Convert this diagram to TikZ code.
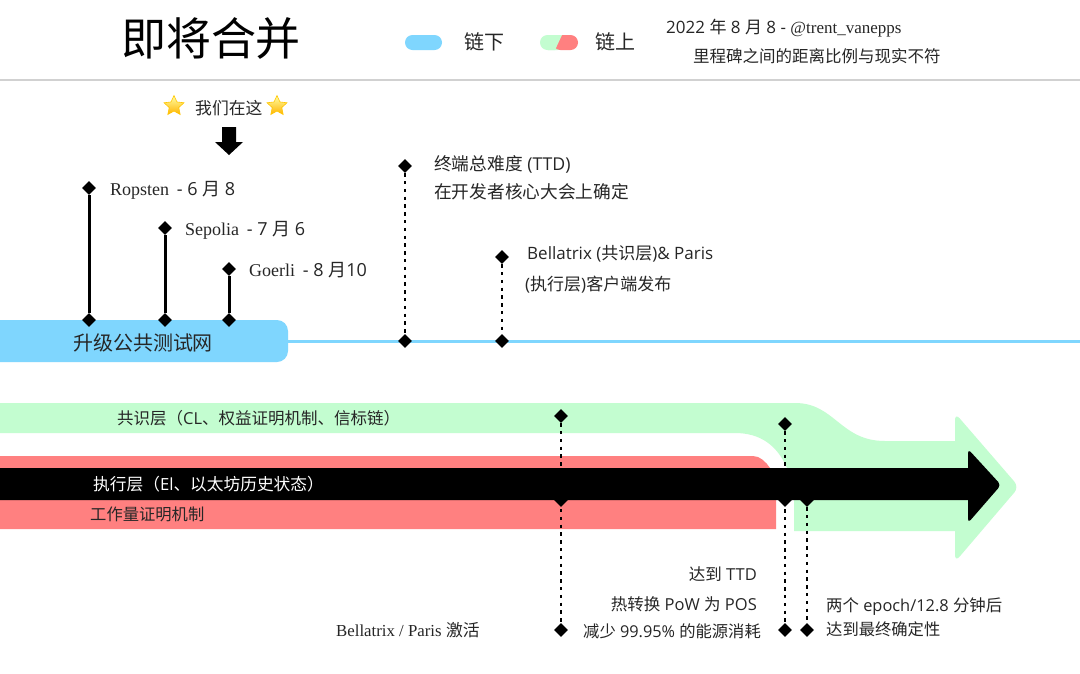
\documentclass[tikz,border=0pt]{standalone}
\usepackage{fontspec}
\usetikzlibrary{shapes.geometric}
\setmainfont{Open Sans}
\newfontfamily\cjk{Noto Sans CJK SC}
\newfontfamily\gara{Liberation Serif}
\newcommand{\C}[1]{{\cjk #1}}
\newcommand{\G}[1]{{\gara #1}}
\newcommand{\fs}[1]{\fontsize{#1}{#1}\selectfont}
\definecolor{blueb}{HTML}{7FD6FE}
\definecolor{greenb}{HTML}{C3FDD0}
\definecolor{redb}{HTML}{FF8080}
\definecolor{ink}{HTML}{262626}
\tikzset{
  x=1pt,y=-1pt,
  mile/.style={diamond,fill=black,inner sep=0pt,minimum size=14pt},
  solidlink/.style={line width=3pt,black},
  dotlink/.style={line width=2.4pt,black,dash pattern=on 3.4pt off 4.4pt},
  lbl/.style={inner sep=0pt,text=ink,font=\fs{16.5}},
  lw/.style={lbl,anchor=west},
  le/.style={lbl,anchor=east},
  starx/.style={star,star points=5,star point ratio=2.1,inner sep=0pt,minimum size=21pt,
     top color=yellow!35!white,bottom color=orange!60!yellow,draw=orange!45!yellow,line width=.6pt},
}
\begin{document}
\begin{tikzpicture}
\useasboundingbox (0,0) rectangle (1080,673);
\fill[white] (0,0) rectangle (1080,673);
% header
\node[lbl,font=\fs{45},text=black] (title) at (211,38) {\C{即将合并}};
\draw[line width=1.4pt,black!18] (0,80) -- (1080,80);
\fill[blueb,rounded corners=7.5pt] (405,35) rectangle (442,50);
\node[lbl,font=\fs{20}] (off) at (484,42) {\C{链下}};
\fill[greenb,rounded corners=7.5pt] (540,35) rectangle (565,50);
\fill[redb,rounded corners=7.5pt] (553,35) rectangle (578,50);
\fill[greenb] (548,35) -- (562,35) -- (555,50) -- (548,50) -- cycle;
\node[lbl,font=\fs{20}] (on) at (615,42) {\C{链上}};
\node[lw,font=\fs{17}] (date) at (666,28) {2022 \C{年} 8 \C{月} 8 - \G{@trent\_vanepps}};
\node[lw,font=\fs{16.5}] (note) at (693,56) {\C{里程碑之间的距离比例与现实不符}};
% here
\node[starx] (s1) at (174,106) {};
\node[lw,font=\fs{16.8}] (here) at (195,108) {\C{我们在这}};
\node[starx] (s2) at (277,106) {};
\fill[black] (222,127) -- (236,127) -- (236,142) -- (243,142) -- (229,155) -- (215,142) -- (222,142) -- cycle;
% public testnets
\draw[blueb,line width=3pt] (280,341) -- (1080,341);
\fill[blueb,rounded corners=11pt] (-20,320) rectangle (288,362);
\node[lbl,font=\fs{20}] (tn) at (143,343) {\C{升级公共测试网}};
\foreach \n/\x/\y in {r/89/188,s/165/228,g/229/269}{
  \node[mile] (\n a) at (\x,\y) {};
  \node[mile] (\n b) at (\x,320) {};
  \draw[solidlink] (\n a) -- (\n b);
}
\node[lw,font=\fs{18}] (rt) at (110,190) {\G{Ropsten}\, - 6 \C{月} 8};
\node[lw,font=\fs{18}] (st) at (185,230) {\G{Sepolia}\, - 7 \C{月} 6};
\node[lw,font=\fs{18}] (gt) at (249,270) {\G{Goerli}\, - 8 \C{月}10};
\foreach \n/\x/\y in {t/405/166,b/502/257}{
  \node[mile] (\n a) at (\x,\y) {};
  \node[mile] (\n b) at (\x,341) {};
  \draw[dotlink] (\n a) -- (\n b);
}
\node[lw,font=\fs{17.7}] (t1) at (434,164) {\C{终端总难度} (TTD)};
\node[lw,font=\fs{17.7}] (t2) at (434,192) {\C{在开发者核心大会上确定}};
\node[lw,font=\fs{17}] (b1) at (527,254) {Bellatrix (\C{共识层})\& Paris};
\node[lw,font=\fs{17}] (b2) at (525,285) {(\C{执行层})\C{客户端发布}};
% bands
\fill[greenb] (0,403) -- (795,403) .. controls (835,403) and (840,441) .. (885,441) -- (955,441)
  [rounded corners=7pt] -- (955,413) -- (1019,487) -- (955,562) [sharp corners] -- (955,531) -- (794,531)
  -- (794,490) -- (787,468) .. controls (777,445) and (760,433) .. (735,433) -- (0,433) -- cycle;
\fill[redb] (0,456) -- (753,456) .. controls (760,456) and (766,462) .. (770,468) -- (776,480) -- (776,529) -- (0,529) -- cycle;
% merge lines
\node[mile] (ma) at (561,416) {};
\node[mile] (mm) at (561,500) {};
\node[mile] (mb) at (561,630) {};
\node[mile] (ta) at (785,424) {};
\node[mile] (tm) at (785,500) {};
\node[mile] (tb) at (785,630) {};
\node[mile] (fm) at (807,500) {};
\node[mile] (fb) at (807,630) {};
\draw[dotlink] (ma) -- (mb);
\draw[dotlink] (ta) -- (tb);
\draw[dotlink] (fm) -- (fb);
% black arrow
\fill[black] (0,468) -- (968,468) [rounded corners=4pt] -- (968,449) -- (1001,485) -- (968,523) [sharp corners] -- (968,500) -- (0,500) -- cycle;
\node[lw,font=\fs{16.5}] (cl) at (117,418) {\C{共识层（}CL\C{、权益证明机制、信标链）}};
\node[lw,text=white,font=\fs{16.7}] (el) at (93,484) {\C{执行层（}El\C{、以太坊历史状态）}};
\node[lw,font=\fs{16.3}] (pw) at (90,514) {\C{工作量证明机制}};
\node[le] (a1) at (757,574) {\C{达到} TTD};
\node[le] (a2) at (757,604) {\C{热转换} PoW \C{为} POS};
\node[le,font=\fs{16.3}] (a3) at (761,631) {\C{减少} 99.95\% \C{的能源消耗}};
\node[lw,font=\fs{16.8}] (act) at (336,630) {\G{Bellatrix / Paris} \C{激活}};
\node[lw,font=\fs{16.4}] (f1) at (826,607) {\C{两个} epoch/12.8 \C{分钟后}};
\node[lw,font=\fs{16.3}] (f2) at (826,629) {\C{达到最终确定性}};
\end{tikzpicture}
\end{document}
